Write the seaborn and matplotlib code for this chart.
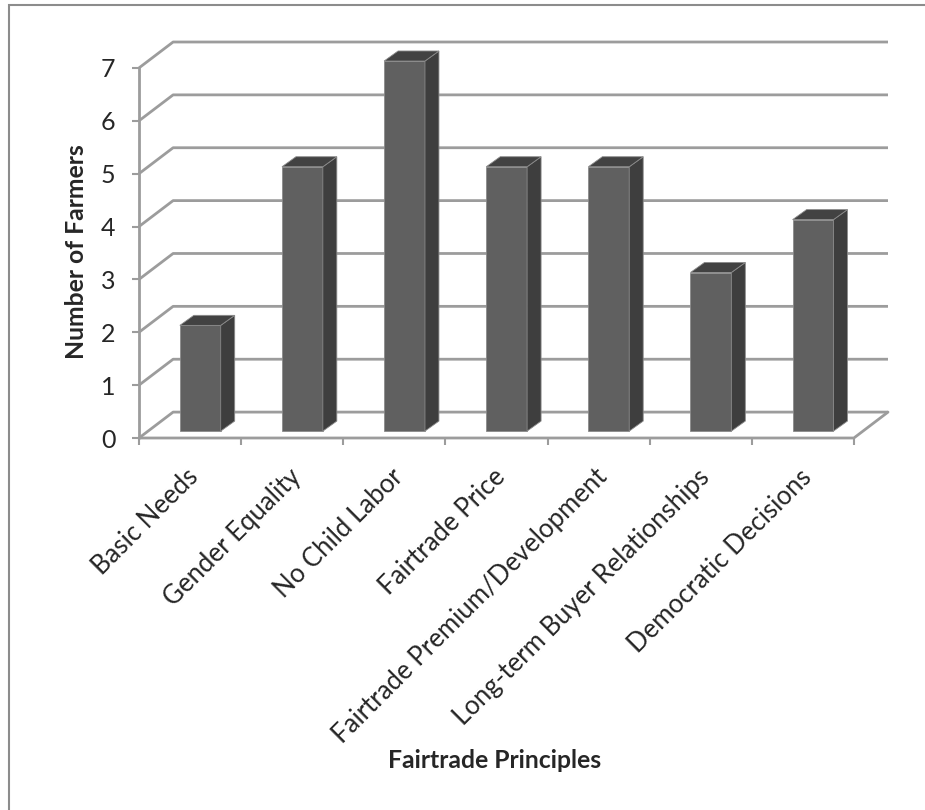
import numpy as np
import matplotlib
matplotlib.use("Agg")
import matplotlib.pyplot as plt
import matplotlib.transforms as mtransforms
import seaborn as sns
from matplotlib.patches import Polygon, Rectangle

# Chart data
principles = ["Basic Needs", "Gender Equality", "No Child Labor", "Fairtrade Price",
              "Fairtrade Premium/Development", "Long-term Buyer Relationships",
              "Democratic Decisions"]
farmers = [2, 5, 7, 5, 5, 3, 4]
y_ticks = [0, 1, 2, 3, 4, 5, 6, 7]

sns.set_style("white")
plt.rcParams["font.family"] = ["Lato", "DejaVu Sans"]

# 3D look: wall depth and bar depth, in data units
DX, DY = 0.334, 0.49      # back wall offset
BX, BY = 0.10, 0.13       # bar front face offset from front plane
BDX, BDY = 0.137, 0.19    # bar depth
GRID = "#9c9c9c"

fig = plt.figure(figsize=(9.25, 8.1), dpi=100)
W, H = 925, 810
ax = fig.add_axes([139 / W, 1 - 438 / H, 749 / W, 396 / H])

n = len(principles)
left, right = -0.5, n - 0.5

# walls / gridlines
for y in y_ticks:
    ax.plot([left, left + DX, right + DX], [y, y + DY, y + DY],
            color=GRID, lw=2, zorder=1, clip_on=False, solid_capstyle="butt")
ax.plot([left, right, right + DX], [0, 0, DY], color=GRID, lw=2, zorder=1, clip_on=False)
ax.plot([left, left], [0, max(y_ticks)], color=GRID, lw=2, zorder=1, clip_on=False)

# front faces of the bars
sns.barplot(x=principles, y=farmers, color="#606060", saturation=1, width=0.4,
            edgecolor="#8a8a8a", linewidth=0.6, ax=ax, zorder=3)

for p in ax.patches:
    x0 = p.get_x() + BX
    p.set_x(x0)
    p.set_y(BY)
    x1 = x0 + p.get_width()
    top = BY + p.get_height()
    side = Polygon([(x1, BY), (x1 + BDX, BY + BDY), (x1 + BDX, top + BDY), (x1, top)],
                   closed=True, facecolor="#3e3e3e", edgecolor="#8a8a8a", lw=0.6, zorder=3)
    cap = Polygon([(x0, top), (x0 + BDX, top + BDY), (x1 + BDX, top + BDY), (x1, top)],
                  closed=True, facecolor="#424242", edgecolor="#8a8a8a", lw=0.6, zorder=3)
    ax.add_patch(side)
    ax.add_patch(cap)

ax.set_xlim(left, right + DX)
ax.set_ylim(0, max(y_ticks) + DY)
for s in ax.spines.values():
    s.set_visible(False)

ax.set_yticks(y_ticks)
ax.set_yticklabels([str(v) for v in y_ticks], fontsize=18)
ax.tick_params(axis="y", left=True, length=5, width=1.5, color=GRID, pad=12)

ax.set_xticks(range(n))
ax.set_xticklabels(principles, rotation=45, ha="right", rotation_mode="anchor", fontsize=18.5)
ax.set_xticks(np.arange(left, right + 0.5, 1), minor=True)
ax.tick_params(axis="x", which="major", length=0, pad=19)
ax.tick_params(axis="x", which="minor", bottom=True, length=5, width=1.5, color=GRID)
shift = mtransforms.ScaledTranslation(-4 / 100, 0, fig.dpi_scale_trans)
for lab in ax.get_xticklabels():
    lab.set_transform(lab.get_transform() + shift)
ax.set_xlabel("")
ax.set_ylabel("")

fig.text(77 / W, 1 - 252 / H, "Number of Farmers", rotation=90, ha="center", va="center",
         fontsize=17.8, fontweight="bold")
fig.text(495 / W, 1 - 760 / H, "Fairtrade Principles", ha="center", va="center",
         fontsize=17.8, fontweight="bold")

# outer chart border
fig.add_artist(Rectangle((9 / W, -0.05), 1.2, 1 - 5 / H + 0.05, transform=fig.transFigure,
                         fill=False, edgecolor="#8c8c8c", lw=1.5))

fig.savefig("out.png", dpi=100)
